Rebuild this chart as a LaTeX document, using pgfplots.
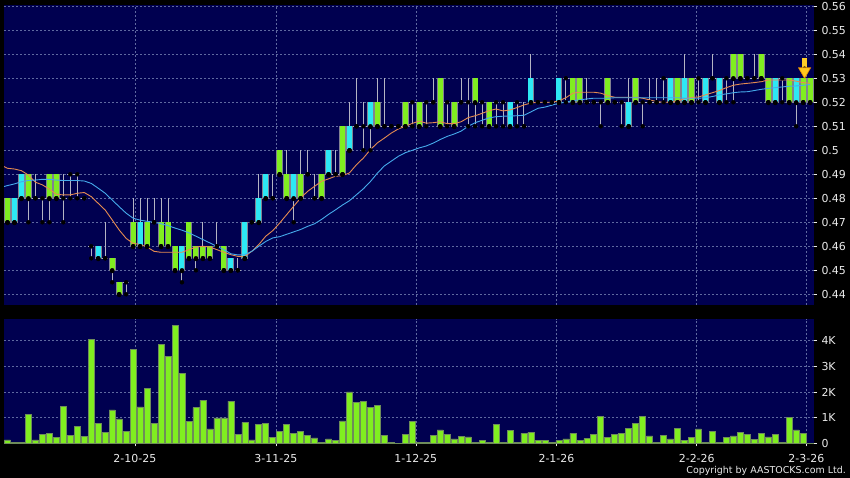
\documentclass[border=0pt]{standalone}
\usepackage{pgfplots}
\usepackage{pgfplotstable}
\pgfplotsset{compat=1.18}
\usepackage{fontspec}
\setmainfont{DejaVu Sans}
\definecolor{navy}{RGB}{0,0,80}
\definecolor{gridc}{RGB}{95,105,160}
\definecolor{limec}{RGB}{128,238,32}
\definecolor{cyanc}{RGB}{45,232,245}
\definecolor{orangec}{RGB}{230,140,80}
\definecolor{bluec}{RGB}{70,170,235}
\definecolor{wickc}{RGB}{180,180,195}
\definecolor{outc}{RGB}{130,130,145}
\definecolor{baredge}{RGB}{110,140,90}
\definecolor{labc}{RGB}{235,235,235}

\pgfplotstableread{
k b h
1 0.47 0.01
4 0.48 0.01
7 0.48 0.01
8 0.48 0.01
16 0.45 0.005
17 0.44 0.005
19 0.46 0.01
21 0.46 0.01
23 0.46 0.01
24 0.46 0.01
25 0.45 0.01
27 0.455 0.015
28 0.455 0.005
29 0.455 0.005
30 0.455 0.005
32 0.45 0.01
40 0.49 0.01
41 0.48 0.01
43 0.48 0.01
46 0.48 0.01
49 0.49 0.02
54 0.51 0.01
58 0.51 0.01
60 0.51 0.01
63 0.51 0.02
65 0.51 0.01
68 0.52 0.01
70 0.51 0.01
82 0.52 0.01
83 0.52 0.01
87 0.52 0.01
91 0.52 0.01
97 0.52 0.01
99 0.52 0.01
105 0.53 0.01
106 0.53 0.01
109 0.53 0.01
110 0.52 0.01
113 0.52 0.01
115 0.52 0.01
116 0.52 0.01
}\greentab

\pgfplotstableread{
k b h
2 0.47 0.01
3 0.48 0.01
14 0.455 0.005
20 0.46 0.01
26 0.45 0.01
33 0.45 0.005
35 0.455 0.015
37 0.47 0.01
38 0.48 0.01
42 0.48 0.01
47 0.49 0.01
50 0.50 0.01
53 0.51 0.01
73 0.51 0.01
76 0.52 0.01
80 0.52 0.01
90 0.51 0.01
96 0.52 0.01
98 0.52 0.01
101 0.52 0.01
103 0.52 0.01
111 0.52 0.01
114 0.52 0.01
}\cyantab

\pgfplotstableread{
k lo hi
1 0.47 0.48
2 0.47 0.48
3 0.48 0.49
4 0.47 0.49
5 0.48 0.49
6 0.47 0.48
7 0.47 0.49
8 0.48 0.49
9 0.47 0.49
10 0.48 0.49
11 0.48 0.49
12 0.48 0.48
13 0.455 0.46
14 0.455 0.46
15 0.455 0.47
16 0.445 0.455
17 0.44 0.445
18 0.44 0.445
19 0.46 0.48
20 0.46 0.48
21 0.46 0.48
22 0.47 0.48
23 0.46 0.48
24 0.46 0.48
25 0.45 0.46
26 0.445 0.46
27 0.455 0.47
28 0.45 0.46
29 0.455 0.47
30 0.455 0.46
31 0.46 0.47
32 0.45 0.46
33 0.45 0.455
34 0.45 0.455
35 0.455 0.47
36 0.47 0.47
37 0.47 0.49
38 0.48 0.49
39 0.48 0.49
40 0.49 0.50
41 0.48 0.50
42 0.47 0.49
43 0.48 0.50
44 0.49 0.50
45 0.48 0.49
46 0.48 0.49
47 0.49 0.50
48 0.49 0.50
49 0.49 0.51
50 0.50 0.52
51 0.51 0.53
52 0.50 0.52
53 0.50 0.52
54 0.51 0.53
55 0.51 0.53
56 0.51 0.51
57 0.51 0.51
58 0.51 0.52
59 0.51 0.52
60 0.51 0.52
61 0.51 0.52
62 0.52 0.53
63 0.51 0.53
64 0.51 0.52
65 0.51 0.52
66 0.52 0.53
67 0.51 0.53
68 0.51 0.53
69 0.51 0.52
70 0.51 0.52
71 0.51 0.52
72 0.51 0.52
73 0.51 0.52
74 0.51 0.52
75 0.51 0.52
76 0.52 0.54
77 0.52 0.52
78 0.52 0.52
79 0.52 0.52
80 0.52 0.53
81 0.52 0.53
82 0.52 0.53
83 0.52 0.53
84 0.52 0.53
85 0.52 0.52
86 0.51 0.52
87 0.52 0.53
88 0.52 0.52
89 0.51 0.52
90 0.51 0.53
91 0.52 0.53
92 0.51 0.52
93 0.52 0.53
94 0.52 0.53
95 0.52 0.53
96 0.52 0.53
97 0.52 0.53
98 0.52 0.54
99 0.52 0.53
100 0.52 0.53
101 0.52 0.53
102 0.53 0.54
103 0.52 0.53
104 0.52 0.53
105 0.52 0.54
106 0.53 0.54
107 0.53 0.53
108 0.53 0.54
109 0.53 0.54
110 0.52 0.53
111 0.52 0.53
112 0.52 0.53
113 0.52 0.53
114 0.51 0.53
115 0.52 0.53
116 0.52 0.53
}\wicktab

\pgfplotstableread{
k lv
5 0.48
6 0.48
9 0.48
10 0.49
11 0.49
12 0.48
13 0.46
15 0.455
18 0.445
22 0.47
31 0.46
34 0.45
36 0.47
39 0.48
44 0.49
45 0.48
48 0.49
51 0.51
52 0.51
55 0.51
56 0.51
57 0.51
59 0.52
61 0.52
62 0.52
64 0.52
66 0.52
67 0.52
69 0.52
71 0.52
72 0.52
74 0.52
75 0.51
77 0.52
78 0.52
79 0.52
81 0.53
84 0.52
85 0.52
86 0.52
88 0.52
89 0.52
92 0.52
93 0.52
94 0.52
95 0.53
100 0.53
102 0.53
104 0.53
107 0.53
108 0.53
112 0.53
}\dojitab

\pgfplotstableread{
k s l
0.5 0.4932 0.4849
1 0.4925 0.4853
2 0.4922 0.4860
3 0.4915 0.4869
4 0.4897 0.4874
5 0.4867 0.4876
6 0.4856 0.4879
7 0.4838 0.4879
8 0.4817 0.4876
9 0.4814 0.4874
10 0.4814 0.4874
11 0.4821 0.4874
12 0.4824 0.4872
13 0.4807 0.4862
14 0.4779 0.4842
15 0.4751 0.4821
16 0.4710 0.4793
17 0.4668 0.4765
18 0.4633 0.4738
19 0.4612 0.4717
20 0.4608 0.4709
21 0.4597 0.4704
22 0.4579 0.4700
23 0.4575 0.4694
24 0.4575 0.4686
25 0.4575 0.4676
26 0.4575 0.4667
27 0.4586 0.4656
28 0.4597 0.4642
29 0.4600 0.4628
30 0.4597 0.4614
31 0.4586 0.4600
32 0.4575 0.4586
33 0.4565 0.4569
34 0.4558 0.4564
35 0.4558 0.4565
36 0.4579 0.4579
37 0.4607 0.4600
38 0.4642 0.4620
39 0.4665 0.4635
40 0.4697 0.4640
41 0.4732 0.4650
42 0.4767 0.4660
43 0.4801 0.4670
44 0.4829 0.4683
45 0.4850 0.4694
46 0.4871 0.4712
47 0.4881 0.4733
48 0.4892 0.4752
49 0.4894 0.4772
50 0.4906 0.4790
51 0.4940 0.4815
52 0.4968 0.4840
53 0.5003 0.4870
54 0.5031 0.4905
55 0.5051 0.4935
56 0.5072 0.4955
57 0.5089 0.4975
58 0.5100 0.4990
59 0.5112 0.5000
60 0.5122 0.5010
61 0.5113 0.5018
62 0.5115 0.5030
63 0.5119 0.5045
64 0.5111 0.5058
65 0.5111 0.5068
66 0.5119 0.5080
67 0.5136 0.5100
68 0.5144 0.5115
69 0.5154 0.5125
70 0.5165 0.5135
71 0.5172 0.5140
72 0.5164 0.5142
73 0.5168 0.5143
74 0.5178 0.5144
75 0.5189 0.5146
76 0.5197 0.5160
77 0.5200 0.5175
78 0.5200 0.5180
79 0.5200 0.5188
80 0.5206 0.5196
81 0.5219 0.5201
82 0.5238 0.5207
83 0.5242 0.5210
84 0.5242 0.5214
85 0.5242 0.5217
86 0.5238 0.5217
87 0.5228 0.5217
88 0.5221 0.5219
89 0.5221 0.5219
90 0.5221 0.5219
91 0.5221 0.5219
92 0.5217 0.5219
93 0.5210 0.5219
94 0.5203 0.5219
95 0.5200 0.5219
96 0.5200 0.5219
97 0.5205 0.5219
98 0.5215 0.5217
99 0.5220 0.5217
100 0.5222 0.5217
101 0.5231 0.5219
102 0.5240 0.5224
103 0.5249 0.5231
104 0.5261 0.5235
105 0.5271 0.5240
106 0.5276 0.5243
107 0.5279 0.5244
108 0.5282 0.5249
109 0.5286 0.5254
110 0.5293 0.5258
111 0.5293 0.5261
112 0.5293 0.5264
113 0.5293 0.5267
114 0.5288 0.5268
115 0.5282 0.5271
116 0.5279 0.5274
}\matab

\pgfplotstableread{
k v
1 0.13
2 0.04
3 0.04
4 1.14
5 0.13
6 0.35
7 0.38
8 0.22
9 1.43
10 0.32
11 0.66
12 0.26
13 4.04
14 0.78
15 0.44
16 1.30
17 0.95
18 0.47
19 3.66
20 1.42
21 2.14
22 0.77
23 3.87
24 3.39
25 4.61
26 2.74
27 0.86
28 1.39
29 1.68
30 0.56
31 0.99
32 0.99
33 1.64
34 0.36
35 0.82
36 0.13
37 0.75
38 0.79
39 0.22
40 0.47
41 0.74
42 0.38
43 0.47
44 0.32
45 0.21
46 0.04
47 0.17
48 0.12
49 0.87
50 2.00
51 1.61
52 1.62
53 1.39
54 1.47
55 0.32
56 0.04
57 0.01
58 0.35
59 0.86
60 0.03
61 0.05
62 0.31
63 0.52
64 0.34
65 0.17
66 0.27
67 0.25
68 0.05
69 0.10
70 0.03
71 0.74
72 0.04
73 0.51
74 0.04
75 0.39
76 0.44
77 0.12
78 0.10
79 0.03
80 0.10
81 0.17
82 0.39
83 0.10
84 0.18
85 0.35
86 1.04
87 0.22
88 0.35
89 0.38
90 0.58
91 0.78
92 1.05
93 0.29
94 0.05
95 0.32
96 0.17
97 0.58
98 0.12
99 0.22
100 0.56
101 0.03
102 0.47
103 0.04
104 0.23
105 0.29
106 0.44
107 0.35
108 0.16
109 0.40
110 0.25
111 0.35
112 0.03
113 1.01
114 0.52
115 0.40
116 0.01
}\voltab

\pgfplotsset{
  chartbase/.style={
    scale only axis, width=810bp,
    xmin=0.5, xmax=116.55,
    axis background/.style={fill=navy},
    axis line style={draw=none},
    grid=major,
    grid style={draw=gridc, line width=0.5bp, dash pattern=on 2bp off 2bp},
    tick align=outside,
    major tick length=3bp,
    tick style={draw=labc, line width=0.6bp},
    yticklabel pos=right,
    ytick pos=right,
    xtick pos=bottom,
    yticklabel style={font=\fontsize{11}{11}\selectfont, text=labc, anchor=west, xshift=1bp},
    xticklabel style={font=\fontsize{11}{11}\selectfont, text=labc},
    xtick={19.25,39.45,59.5,79.65,99.75,115.45},
    /pgf/number format/assume math mode=true,
  },
  bodyline/.style={only marks, mark=none, forget plot,
    error bars/y dir=plus, error bars/y explicit, error bars/error mark=none},
}

\begin{document}
\begin{tikzpicture}
\fill[black] (0bp,0bp) rectangle (850bp,478bp);
\useasboundingbox (0bp,0bp) rectangle (850bp,478bp);

\begin{axis}[chartbase,
  at={(4bp,173bp)}, anchor=south west, height=300bp,
  ymin=0.43554, ymax=0.56054,
  ytick={0.44,0.45,0.46,0.47,0.48,0.49,0.50,0.51,0.52,0.53,0.54,0.55,0.56},
  yticklabels={0.44,0.45,0.46,0.47,0.48,0.49,0.5,0.51,0.52,0.53,0.54,0.55,0.56},
  xticklabels={}, xtick style={draw=none},
]
% wicks
\addplot[bodyline, error bars/error bar style={draw=wickc, line width=1bp}]
  table[x=k, y=lo, y error plus expr=\thisrow{hi}-\thisrow{lo}] {\wicktab};
% doji
\addplot[only marks, mark=none, forget plot,
  error bars/x dir=both, error bars/x fixed=0.46, error bars/error mark=none,
  error bars/error bar style={draw=wickc, line width=1bp}]
  table[x=k, y=lv] {\dojitab};
% body outlines
\addplot[bodyline, error bars/error bar style={draw=outc, line width=6.7bp}]
  table[x=k, y expr=\thisrow{b}-0.0003, y error plus expr=\thisrow{h}+0.0006] {\greentab};
\addplot[bodyline, error bars/error bar style={draw=outc, line width=6.7bp}]
  table[x=k, y expr=\thisrow{b}-0.0003, y error plus expr=\thisrow{h}+0.0006] {\cyantab};
% bodies
\addplot[bodyline, error bars/error bar style={draw=limec, line width=5bp}]
  table[x=k, y=b, y error plus=h] {\greentab};
\addplot[bodyline, error bars/error bar style={draw=cyanc, line width=5bp}]
  table[x=k, y=b, y error plus=h] {\cyantab};
% moving averages
\addplot[draw=orangec, line width=0.9bp, mark=none] table[x=k, y=s] {\matab};
\addplot[draw=bluec, line width=0.9bp, mark=none] table[x=k, y=l] {\matab};
% marker arrow
\addplot[bodyline,
  error bars/error bar style={draw={rgb,255:red,255;green,205;blue,40}, line width=4.5bp}]
  coordinates {(115.2,0.5340) +- (0,0.0043)};
\addplot[only marks, mark=triangle*, mark size=7bp,
  mark options={rotate=180, fill={rgb,255:red,255;green,200;blue,30}, draw={rgb,255:red,230;green,140;blue,0}, line width=0.6bp}]
  coordinates {(115.2,0.53292)};
\end{axis}

\begin{axis}[chartbase,
  at={(4bp,34.7bp)}, anchor=south west, height=124.3bp,
  ymin=0, ymax=4.846,
  ytick={0,1,2,3,4},
  yticklabels={0,1K,2K,3K,4K},
  xticklabels={2-10-25,3-11-25,1-12-25,2-1-26,2-2-26,2-3-26},
  xticklabel style={yshift=-5bp},
]
\addplot[ybar, bar width=6bp, fill=limec, draw=baredge, line width=0.6bp]
  table[x=k, y=v] {\voltab};
\end{axis}

\node[anchor=east, inner sep=0pt, text=labc, font=\fontsize{9.5}{9.5}\selectfont] at (846bp,7.5bp) {Copyright by AASTOCKS.com Ltd.};
\end{tikzpicture}
\end{document}
